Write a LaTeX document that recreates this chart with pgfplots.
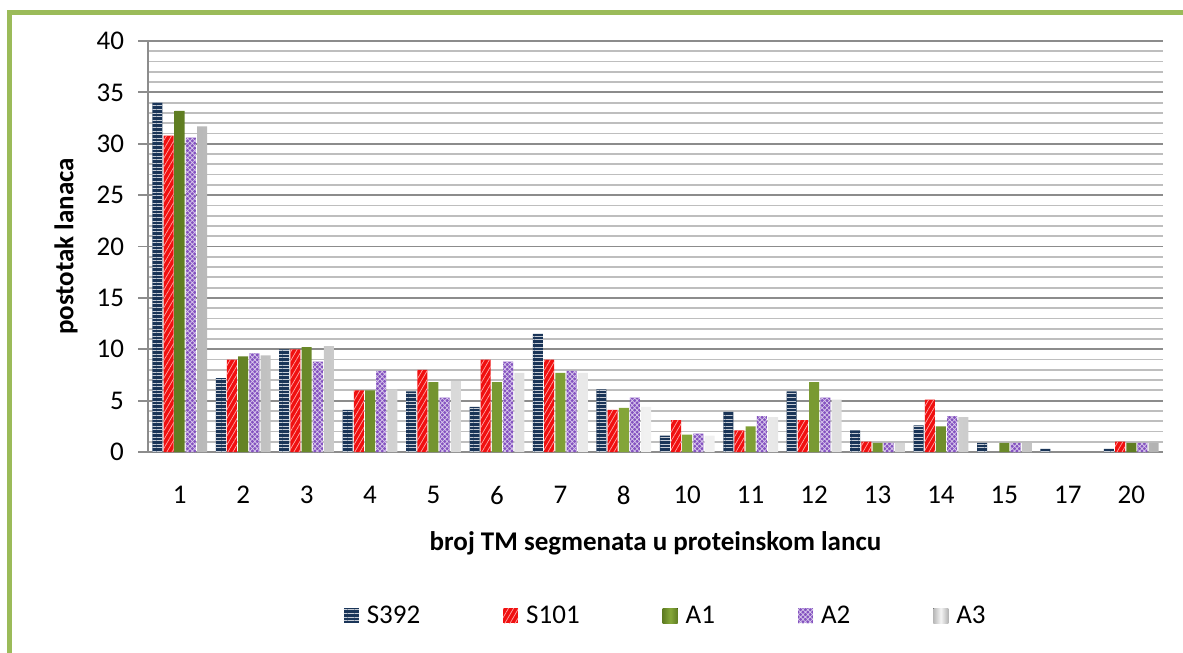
\documentclass[border=0pt]{standalone}
\usepackage{fontspec}
\setmainfont{Carlito}
\usepackage{pgfplots}
\pgfplotsset{compat=1.18}
\usepackage{pgfplotstable}
\usetikzlibrary{patterns.meta}

\definecolor{navyS}{HTML}{1A3558}
\definecolor{redS}{HTML}{F01010}
\definecolor{greenS}{HTML}{86A83A}
\definecolor{greenD}{HTML}{5F7D22}
\definecolor{purpleS}{HTML}{8452C0}
\definecolor{grayS}{HTML}{D4D4D4}
\definecolor{frameG}{HTML}{9BBB59}
\definecolor{gridmaj}{HTML}{8C8C8C}
\definecolor{gridmin}{HTML}{BEBEBE}

\pgfplotstableread{
x S392 S101 A1 A2 A3
0 34.0 30.8 33.2 30.6 31.7
1 7.2 9.0 9.3 9.6 9.4
2 10.0 10.0 10.2 8.8 10.3
3 4.1 6.0 6.0 7.9 6.1
4 5.9 8.0 6.8 5.3 6.9
5 4.4 9.0 6.8 8.8 7.7
6 11.5 9.0 7.7 7.9 7.7
7 6.1 4.1 4.3 5.3 4.4
8 1.6 3.1 1.7 1.8 1.6
9 3.9 2.1 2.5 3.5 3.4
10 5.9 3.1 6.8 5.3 5.1
11 2.1 1.0 0.9 0.9 0.9
12 2.6 5.1 2.5 3.5 3.4
13 0.9 0 0.9 0.9 0.9
14 0.3 0 0 0 0
15 0.3 1.0 0.9 0.9 0.9
}\data

\pgfplotsset{
  /pgfplots/ybar legend/.style={/pgfplots/legend image code/.code={\fill[##1] (0pt,-3.75pt) rectangle (7.5pt,3.75pt);}},
}

\begin{document}
\begin{tikzpicture}
\useasboundingbox (0,0) rectangle (591.5pt,-326.5pt);
\draw[line width=2.2pt, frameG] (4.75pt,-326.5pt) -- (4.75pt,-6.25pt) -- (591.5pt,-6.25pt);
\begin{axis}[
  at={(74pt,-226pt)}, anchor=south west,
  scale only axis, width=507.5pt, height=205.5pt,
  ymin=0, ymax=40, xmin=-0.5, xmax=15.5,
  ybar=0.6pt, bar width=5pt,
  ytick={0,5,...,40}, minor ytick={1,...,39},
  ymajorgrids, yminorgrids,
  major grid style={gridmaj, line width=0.9pt},
  minor grid style={gridmin, line width=0.9pt},
  xtick={0,...,15},
  xticklabels={1,2,3,4,5,6,7,8,10,11,12,13,14,15,17,20},
  axis x line*=bottom, axis y line*=left,
  axis line style={gridmaj, line width=0.9pt},
  tick align=outside,
  major tick length=5pt, minor tick length=0pt,
  xtick style={draw=none},
  ytick style={gridmaj, line width=0.9pt},
  tick label style={font=\fontsize{13.5}{16}\selectfont},
  /pgf/number format/assume math mode=true,
  xticklabel style={anchor=center, yshift=-16.5pt},
  yticklabel style={xshift=-3.5pt},
  xlabel={\bfseries broj TM segmenata u proteinskom lancu},
  ylabel={\bfseries postotak lanaca},
  label style={font=\fontsize{13.5}{16}\selectfont},
  xlabel style={at={(axis description cs:0.5,-0.2214)}, anchor=center},
  ylabel style={at={(axis description cs:-0.0808,0.5)}, anchor=center},
  legend style={at={(axis description cs:0.513,-0.399)}, anchor=center,
    draw=none, font=\fontsize{13.5}{16}\selectfont,
    /tikz/every even column/.append style={column sep=37.5pt},
    nodes={inner xsep=4pt}},
  legend columns=5,
  every axis plot/.append style={draw=none, y filter/.expression={y==0 ? nan : y}},
]
\addplot[fill=navyS, postaction={pattern={Lines[angle=0,distance=1.8pt,line width=0.4pt]}, pattern color=white!75!navyS}] table[x=x,y=S392]{\data};
\addplot[fill=redS, postaction={pattern={Lines[angle=60,distance=2.2pt,line width=0.35pt]}, pattern color=white!65!red}] table[x=x,y=S101]{\data};
\addplot[left color=greenD, right color=greenD, middle color=greenS] table[x=x,y=A1]{\data};
\addplot[fill=purpleS, postaction={pattern={Hatch[angle=45,distance=1.7pt,line width=0.35pt]}, pattern color=white!70!purpleS}] table[x=x,y=A2]{\data};
\addplot[left color=gray!55, right color=gray!60, middle color=white!92!gray] table[x=x,y=A3]{\data};
\legend{S392,S101,A1,A2,A3}
\end{axis}
\end{tikzpicture}
\end{document}
